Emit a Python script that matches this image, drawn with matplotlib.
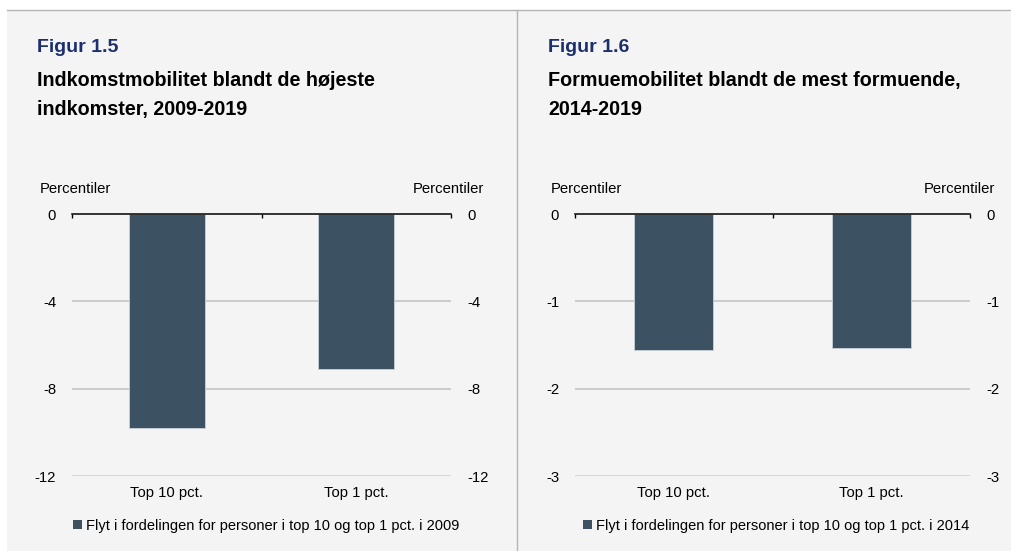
import numpy as np
import matplotlib
matplotlib.use("Agg")
import matplotlib.pyplot as plt
from matplotlib.patches import Rectangle
from matplotlib.lines import Line2D

plt.rcParams['font.family'] = ['Liberation Sans', 'DejaVu Sans']

# data
categories = ["Top 10 pct.", "Top 1 pct."]
income_vals = [-9.8, -7.1]
wealth_vals = [-1.56, -1.53]
income_ticks = [0, -4, -8, -12]
wealth_ticks = [0, -1, -2, -3]

fig_nums = ["Figur 1.5", "Figur 1.6"]
titles = ["Indkomstmobilitet blandt de højeste\nindkomster, 2009-2019",
          "Formuemobilitet blandt de mest formuende,\n2014-2019"]
legends = ["Flyt i fordelingen for personer i top 10 og top 1 pct. i 2009",
           "Flyt i fordelingen for personer i top 10 og top 1 pct. i 2014"]

W, H = 1012, 551
fig = plt.figure(figsize=(W / 100, H / 100), dpi=100)
fig.patch.set_facecolor("white")

# panel background + frame lines
fig.patches.append(Rectangle((7 / W, 0), 1 - 7 / W, 1 - 10 / H, transform=fig.transFigure,
                             facecolor="#f4f4f4", edgecolor="none", zorder=-5))
fig.lines.append(Line2D([7 / W, 1], [1 - 10 / H, 1 - 10 / H], transform=fig.transFigure,
                        color="#b4b4b4", lw=1))
fig.lines.append(Line2D([517 / W, 517 / W], [0, 1 - 10 / H], transform=fig.transFigure,
                        color="#b4b4b4", lw=1))

bar_color = "#3c5263"
navy = "#1b2f6e"

panels = [
    dict(vals=income_vals, ticks=income_ticks, x0=72, x1=451, txt=37, lab_l=40, lab_r=484, leg=266),
    dict(vals=wealth_vals, ticks=wealth_ticks, x0=575, x1=970, txt=548, lab_l=551, lab_r=995, leg=776),
]

for i, p in enumerate(panels):
    ax = fig.add_axes([p["x0"] / W, 1 - 476 / H, (p["x1"] - p["x0"]) / W, (476 - 214) / H])
    ax.set_facecolor("none")
    x = np.arange(len(categories))
    ax.bar(x, p["vals"], width=0.4, color=bar_color, edgecolor="#c9d1d7", linewidth=0.6,
           zorder=3, label=legends[i])
    ax.set_xlim(-0.5, 1.5)
    ax.set_ylim(p["ticks"][-1], 0)
    ax.set_yticks(p["ticks"])
    ax.set_yticklabels([str(t) for t in p["ticks"]])
    ax.set_xticks(x)
    ax.set_xticklabels(categories)
    ax.tick_params(axis="x", length=0, pad=7, labelsize=10.7)
    ax.tick_params(axis="y", left=False, right=False, labelleft=True, labelright=True,
                   labelsize=10.7, pad=8)
    for s in ax.spines.values():
        s.set_visible(False)
    # gridlines (not the zero line)
    for t in p["ticks"][1:]:
        ax.axhline(t, color="#c4c4c4" if t != p["ticks"][-1] else "#d0d0d0", lw=1.2, zorder=0)

    # zero line with category boundary ticks
    top = ax.secondary_xaxis("top")
    top.set_xticks([-0.5, 0.5, 1.5])
    top.set_xticklabels([])
    top.tick_params(direction="in", length=3, width=1, color="black")
    top.spines["top"].set_color("black")
    top.spines["top"].set_linewidth(1.1)
    top.set_zorder(5)

    fig.text(p["txt"] / W, 1 - 48 / H, fig_nums[i], color=navy, fontsize=14,
             fontweight="bold", va="center", ha="left")
    fig.text(p["txt"] / W, 1 - 95 / H, titles[i], color="black", fontsize=14.2,
             fontweight="bold", va="center", ha="left", linespacing=1.65)
    fig.text(p["lab_l"] / W, 1 - 189 / H, "Percentiler", fontsize=10.7, va="center", ha="left")
    fig.text(p["lab_r"] / W, 1 - 189 / H, "Percentiler", fontsize=10.7, va="center", ha="right")

    fig.legend(handles=ax.patches[:1], labels=[legends[i]], loc="center",
               bbox_to_anchor=(p["leg"] / W, 1 - 526 / H), frameon=False, fontsize=10.5,
               handlelength=0.6, handleheight=0.6, handletextpad=0.25, borderpad=0)
    for h in fig.legends[-1].legend_handles:
        h.set_edgecolor("none")

fig.savefig("out.png", dpi=100, facecolor=fig.get_facecolor())
